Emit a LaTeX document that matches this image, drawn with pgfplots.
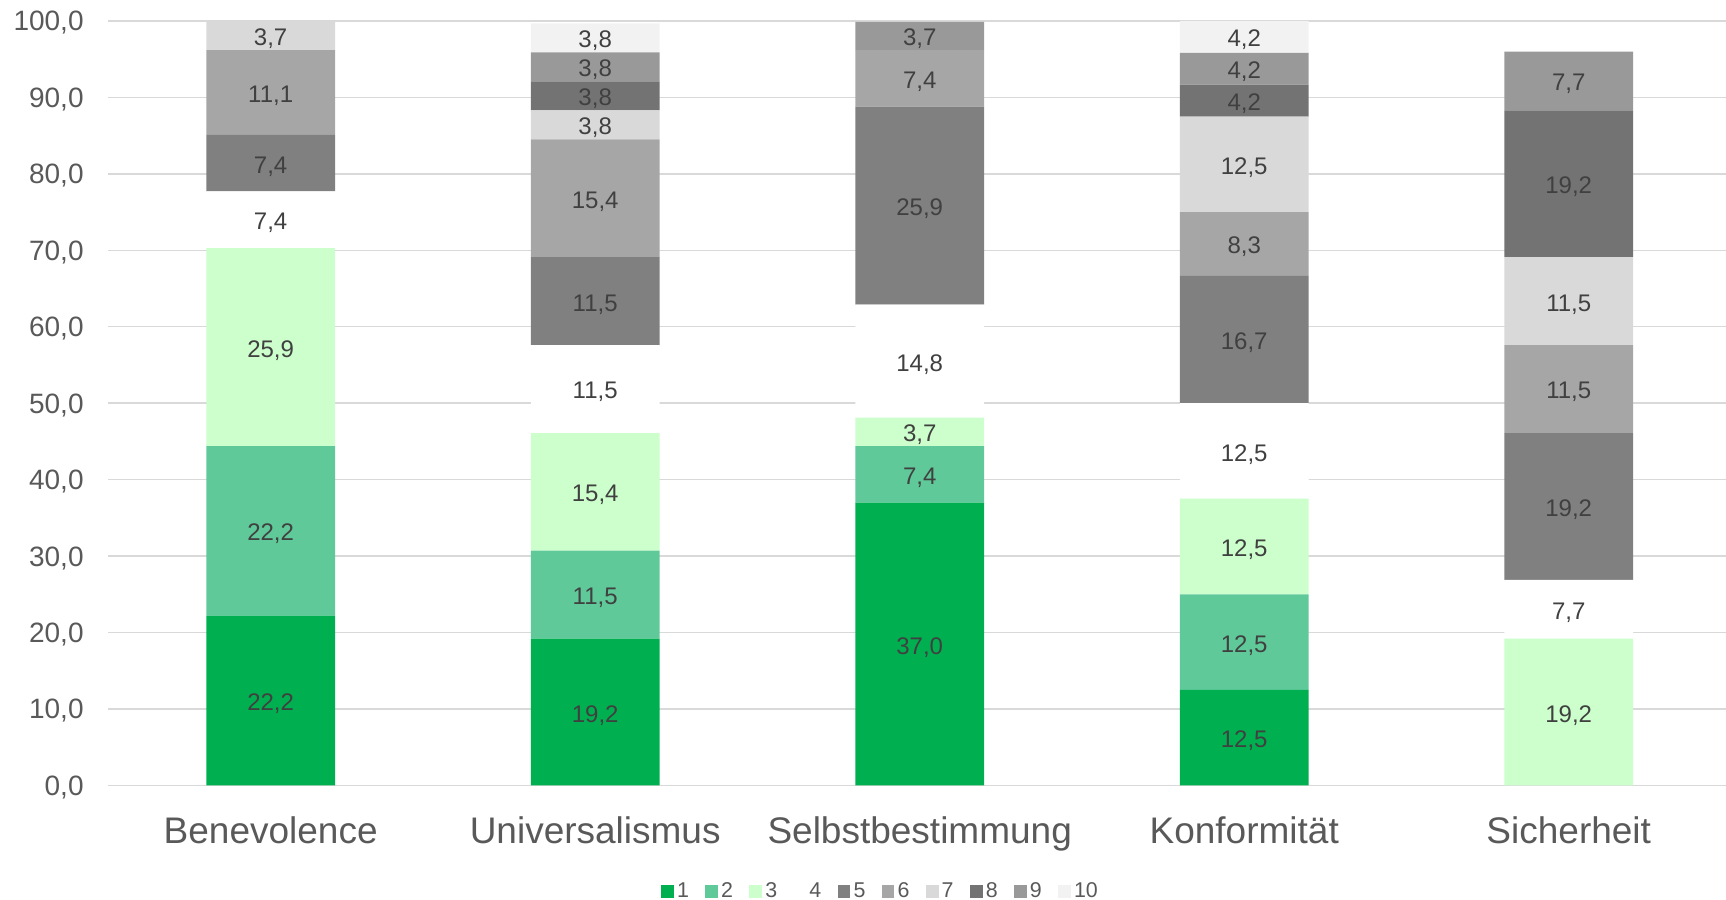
\documentclass[border=0pt]{standalone}
\usepackage{fontspec}
\setmainfont{Liberation Sans}
\usepackage{pgfplots}
\pgfplotsset{compat=1.18}
\definecolor{c1}{HTML}{00B050}
\definecolor{c2}{HTML}{5FC99A}
\definecolor{c3}{HTML}{CCFFCC}
\definecolor{c4}{HTML}{FFFFFF}
\definecolor{c5}{HTML}{808080}
\definecolor{c6}{HTML}{A6A6A6}
\definecolor{c7}{HTML}{D9D9D9}
\definecolor{c8}{HTML}{737373}
\definecolor{c9}{HTML}{999999}
\definecolor{c10}{HTML}{F2F2F2}
\definecolor{txtc}{HTML}{595959}
\definecolor{labc}{HTML}{404040}
\definecolor{gridc}{HTML}{D9D9D9}
\begin{document}
\begin{tikzpicture}
\useasboundingbox (0,0) rectangle (863pt,450pt);
\begin{axis}[
  at={(54.2pt,57.3pt)}, anchor=south west,
  scale only axis, width=811.3pt, height=382.2pt,
  ybar stacked, bar width=64.4pt,
  xmin=-0.5, xmax=4.5, ymin=0, ymax=100,
  xtick={0,1,2,3,4},
  xticklabels={Benevolence,Universalismus,Selbstbestimmung,Konformität,Sicherheit},
  ytick={0,10,...,100},
  axis line style={draw=none},
  major tick length=0pt,
  ymajorgrids, grid style={draw=gridc, line width=0.7pt},
  yticklabel style={font=\fontsize{14}{16}\selectfont, text=txtc, anchor=base east, inner sep=0pt, xshift=-12.2pt, yshift=-5pt,
    /pgf/number format/.cd, fixed, fixed zerofill, precision=1, use comma, assume math mode=true},
  xticklabel style={font=\fontsize{18.5}{22}\selectfont, text=txtc, anchor=base, yshift=-29pt},
  point meta=explicit symbolic,
  nodes near coords,
  nodes near coords style={font=\fontsize{12}{14}\selectfont, text=labc, anchor=center, yshift=-1.6pt},
  legend columns=10,
  legend image code/.code={\fill[#1] (0pt,-3.2pt) rectangle (6.4pt,3.2pt);},
  legend style={draw=none, fill=none, at={(0.4762,-0.1384)}, anchor=center,
    font=\fontsize{10.7}{12}\selectfont, text=txtc,
    /tikz/every even column/.append style={column sep=6.5pt},
    nodes={inner xsep=1.6pt, inner ysep=0pt}},
]
\addplot[fill=c1, draw=none] coordinates {(0,22.2)[22,2] (1,19.2)[19,2] (2,37.0)[37,0] (3,12.5)[12,5] (4,0)[]};
\addplot[fill=c2, draw=none] coordinates {(0,22.2)[22,2] (1,11.5)[11,5] (2,7.4)[7,4] (3,12.5)[12,5] (4,0)[]};
\addplot[fill=c3, draw=none] coordinates {(0,25.9)[25,9] (1,15.4)[15,4] (2,3.7)[3,7] (3,12.5)[12,5] (4,19.2)[19,2]};
\addplot[fill=c4, draw=none] coordinates {(0,7.4)[7,4] (1,11.5)[11,5] (2,14.8)[14,8] (3,12.5)[12,5] (4,7.7)[7,7]};
\addplot[fill=c5, draw=none] coordinates {(0,7.4)[7,4] (1,11.5)[11,5] (2,25.9)[25,9] (3,16.67)[16,7] (4,19.2)[19,2]};
\addplot[fill=c6, draw=none] coordinates {(0,11.1)[11,1] (1,15.4)[15,4] (2,7.4)[7,4] (3,8.33)[8,3] (4,11.5)[11,5]};
\addplot[fill=c7, draw=none] coordinates {(0,3.7)[3,7] (1,3.8)[3,8] (2,0)[] (3,12.5)[12,5] (4,11.5)[11,5]};
\addplot[fill=c8, draw=none] coordinates {(0,0)[] (1,3.8)[3,8] (2,0)[] (3,4.17)[4,2] (4,19.2)[19,2]};
\addplot[fill=c9, draw=none] coordinates {(0,0)[] (1,3.8)[3,8] (2,3.7)[3,7] (3,4.17)[4,2] (4,7.7)[7,7]};
\addplot[fill=c10, draw=none] coordinates {(0,0)[] (1,3.8)[3,8] (2,0)[] (3,4.15)[4,2] (4,0)[]};
\legend{1,2,3,4,5,6,7,8,9,10}
\end{axis}
\end{tikzpicture}
\end{document}
